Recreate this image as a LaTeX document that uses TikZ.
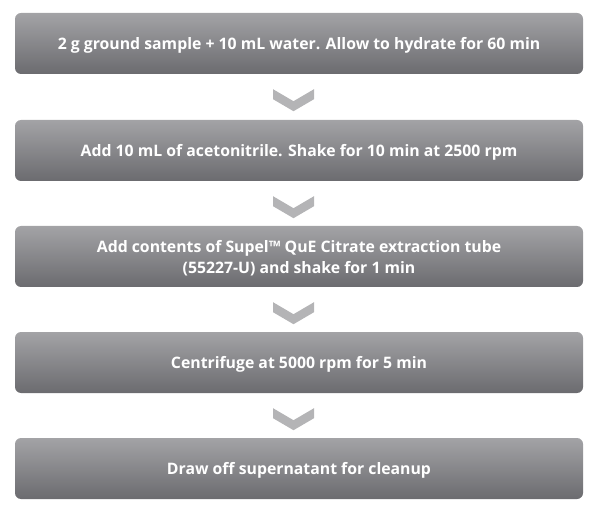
\documentclass[tikz,border=0pt]{standalone}
\usepackage{fontspec}
\setmainfont{Open Sans}
\definecolor{boxtop}{RGB}{163,163,166}
\definecolor{boxbot}{RGB}{107,107,111}
\definecolor{chevc}{RGB}{180,180,182}
\begin{document}
\begin{tikzpicture}[x=1pt,y=-1pt,
  stepbox/.style={rounded corners=6pt, top color=boxtop, bottom color=boxbot,
    minimum width=568pt, minimum height=61pt, inner sep=0pt},
  steptext/.style={text=white, align=center,
    font=\fontsize{15.8}{21}\selectfont\bfseries, inner sep=0pt},
  chev/.style={fill=chevc}]
\useasboundingbox (0,0) rectangle (600,513);
\node[stepbox] (b1) at (299,43.5) {};
\node[stepbox] (b2) at (299,150.5) {};
\node[stepbox] (b3) at (299,256.5) {};
\node[stepbox] (b4) at (299,362.5) {};
\node[stepbox] (b5) at (299,468.5) {};
\node[steptext] (t1) at ([yshift=-2pt]b1.center) {2 g ground sample + 10 mL water. Allow to hydrate for 60 min};
\node[steptext] (t2) at ([yshift=-2pt]b2.center) {Add 10 mL of acetonitrile. Shake for 10 min at 2500 rpm};
\node[steptext] (t3) at ([yshift=-2pt]b3.center) {Add contents of Supel™ QuE Citrate extraction tube\\(55227-U) and shake for 1 min};
\node[steptext] (t4) at ([yshift=-2pt]b4.center) {Centrifuge at 5000 rpm for 5 min};
\node[steptext] (t5) at ([yshift=-2pt]b5.center) {Draw off supernatant for cleanup};
\foreach \a in {b1,b2,b3,b4}{
  \fill[chev] ([xshift=-26pt,yshift=-15pt]\a.south) -- ++(0,10) -- ++(20.5,12) -- ++(20.5,-12) -- ++(0,-10) -- ++(-20.5,12) -- cycle;
}
\end{tikzpicture}
\end{document}
